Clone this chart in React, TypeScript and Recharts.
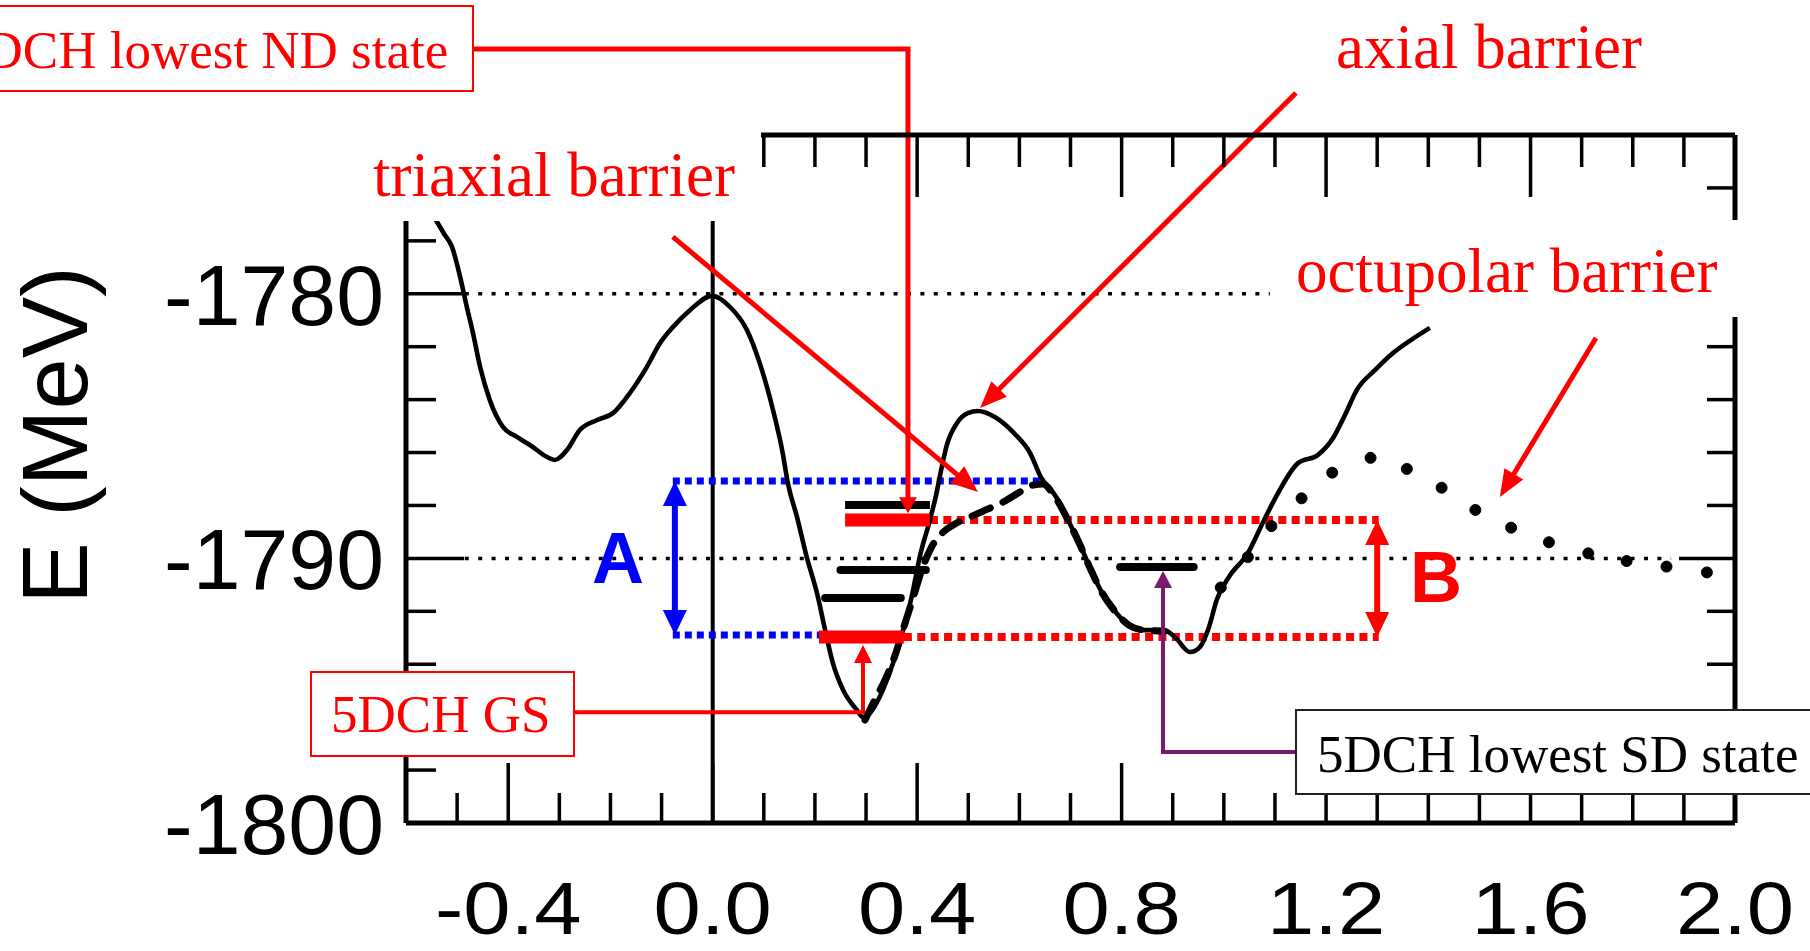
import React from 'react';
import { ComposedChart, Line, XAxis, YAxis, ReferenceLine } from 'recharts';

// potential energy along the fission path, [q, E in MeV]
const fullPath: [number, number][] = [
  [-0.545, -1777.1], [-0.525, -1777.75], [-0.51, -1778.23], [-0.494, -1779.37], [-0.481, -1780.5],
  [-0.469, -1781.48], [-0.455, -1782.77], [-0.436, -1784.02], [-0.41, -1785.04], [-0.383, -1785.41],
  [-0.352, -1785.79], [-0.324, -1786.17], [-0.309, -1786.28], [-0.285, -1785.9], [-0.26, -1785.15],
  [-0.226, -1784.77], [-0.195, -1784.51], [-0.162, -1783.75], [-0.129, -1782.77], [-0.103, -1781.86],
  [-0.078, -1781.26], [-0.044, -1780.61], [-0.001, -1780.08], [0.034, -1780.5], [0.067, -1781.37],
  [0.092, -1782.62], [0.118, -1784.39], [0.137, -1786.02], [0.147, -1787.15], [0.165, -1788.44],
  [0.184, -1789.95], [0.204, -1791.31], [0.22, -1792.71], [0.235, -1793.95], [0.255, -1794.97],
  [0.282, -1795.73], [0.294, -1796.0], [0.308, -1795.84], [0.333, -1794.97], [0.353, -1793.95],
  [0.366, -1793.09], [0.38, -1792.22], [0.392, -1791.2], [0.405, -1789.95], [0.425, -1788.55],
  [0.437, -1787.61], [0.449, -1786.47], [0.458, -1785.72], [0.478, -1784.88], [0.499, -1784.51],
  [0.519, -1784.43], [0.552, -1784.66], [0.589, -1785.26], [0.621, -1786.02], [0.642, -1786.93],
  [0.672, -1787.68], [0.695, -1788.55], [0.717, -1789.42], [0.74, -1790.44], [0.762, -1791.31],
  [0.785, -1791.95], [0.814, -1792.52], [0.844, -1792.71], [0.883, -1792.71], [0.904, -1792.97],
  [0.934, -1793.54], [0.953, -1793.35], [0.971, -1792.59], [0.986, -1791.57], [1.01, -1790.7],
  [1.047, -1789.8], [1.076, -1788.66], [1.106, -1787.53], [1.145, -1786.4], [1.184, -1786.09],
  [1.215, -1785.41], [1.237, -1784.58], [1.26, -1783.64], [1.296, -1782.88], [1.331, -1782.24],
  [1.366, -1781.75], [1.403, -1781.29],
];

// path over the triaxial saddle (dashed)
const triaxialPath: [number, number][] = [
  [0.298, -1796.11], [0.317, -1795.35], [0.337, -1794.6], [0.357, -1793.65], [0.374, -1792.59],
  [0.392, -1791.5], [0.409, -1790.44], [0.427, -1789.61], [0.449, -1789.04], [0.474, -1788.7],
  [0.503, -1788.44], [0.539, -1788.13], [0.572, -1787.83], [0.601, -1787.49], [0.627, -1787.23],
  [0.646, -1787.19], [0.666, -1787.57], [0.695, -1788.55], [0.717, -1789.42], [0.74, -1790.44],
  [0.762, -1791.31], [0.785, -1791.95], [0.814, -1792.52], [0.844, -1792.71], [0.883, -1792.75],
];

// octupolar path (big dots)
const octupolarPath: [number, number][] = [
  [0.994, -1791.1], [1.047, -1789.95], [1.093, -1788.78], [1.152, -1787.73], [1.212, -1786.76],
  [1.287, -1786.2], [1.358, -1786.62], [1.426, -1787.33], [1.492, -1788.17], [1.562, -1788.84],
  [1.636, -1789.39], [1.713, -1789.81], [1.788, -1790.1], [1.866, -1790.31], [1.945, -1790.53],
];

const xTicks = [
  -0.6, -0.5, -0.4, -0.3, -0.2, -0.1, 0, 0.1, 0.2, 0.3, 0.4, 0.5, 0.6, 0.7, 0.8, 0.9,
  1.0, 1.1, 1.2, 1.3, 1.4, 1.5, 1.6, 1.7, 1.8, 1.9, 2.0,
];
const xLabels = [-0.4, 0, 0.4, 0.8, 1.2, 1.6, 2.0];
const yTicks = [-1800, -1798, -1796, -1794, -1792, -1790, -1788, -1786, -1784, -1782, -1780, -1778, -1776];
const yLabels = [-1800, -1790, -1780];

// levels, [qFrom, qTo, E]
const ndLevels = [
  [0.259, 0.425, -1787.98],
  [0.25, 0.417, -1790.44],
  [0.22, 0.368, -1791.5],
];
const ndLowest = [0.259, 0.425, -1788.55];
const groundState = [0.208, 0.374, -1792.97];
const sdLowest = [0.797, 0.941, -1790.33];

// black dotted guides, [qFrom, qTo, E]
const guides = [
  [-0.485, 1.09, -1780],
  [-0.485, 1.875, -1790],
];
// blue A and red B gaps, [q, Etop, Ebottom]
const gapA = [-0.074, -1787.08, -1792.9];
const gapB = [1.3, -1788.55, -1792.97];

// barrier pointers, [qFrom, EFrom, qTo, ETo]
const pointers = [
  [-0.078, -1777.85, 0.519, -1787.49],
  [1.141, -1772.41, 0.523, -1784.32],
  [1.728, -1781.67, 1.54, -1787.68],
];

const RED = '#ff0000';
const BLUE = '#0000ff';
const PURPLE = '#7a1a6e';
const SERIF = "'Liberation Serif', 'Times New Roman', serif";
const SANS = "'Liberation Sans', Arial, sans-serif";

const toPts = (arr: [number, number][]) => arr.map(([q, E]) => ({ q, E }));

function headPoints(xt: number, yt: number, xs: number, ys: number, len: number, half: number) {
  const d = Math.hypot(xt - xs, yt - ys) || 1;
  const ux = (xt - xs) / d;
  const uy = (yt - ys) / d;
  const bx = xt - ux * len;
  const by = yt - uy * len;
  return `${xt},${yt} ${bx - uy * half},${by + ux * half} ${bx + uy * half},${by - ux * half}`;
}

const arrow = (color: string, width: number, len: number, half: number, both = false) => (p: any) => {
  const { x1, y1, x2, y2 } = p;
  const d = Math.hypot(x2 - x1, y2 - y1) || 1;
  const ux = (x2 - x1) / d;
  const uy = (y2 - y1) / d;
  const k = len * 0.7;
  return (
    <g>
      <line
        x1={both ? x1 + ux * k : x1}
        y1={both ? y1 + uy * k : y1}
        x2={x2 - ux * k}
        y2={y2 - uy * k}
        stroke={color}
        strokeWidth={width}
      />
      <polygon points={headPoints(x2, y2, x1, y1, len, half)} fill={color} />
      {both && <polygon points={headPoints(x1, y1, x2, y2, len, half)} fill={color} />}
    </g>
  );
};

const stroke = (color: string, width: number, dash?: string, cap: 'butt' | 'round' | 'square' = 'butt') => (p: any) => (
  <line
    x1={p.x1}
    y1={p.y1}
    x2={p.x2}
    y2={p.y2}
    stroke={color}
    strokeWidth={width}
    strokeDasharray={dash}
    strokeLinecap={cap}
  />
);

const seg = (q1: number, e1: number, q2: number, e2: number) => [
  { x: q1, y: e1 },
  { x: q2, y: e2 },
];

function BottomTick(p: any) {
  const v = p.payload.value;
  const major = xLabels.includes(v);
  return (
    <g>
      <line x1={p.x} x2={p.x} y1={p.y} y2={p.y - (major ? 60 : 30)} stroke="#000" strokeWidth={3.5} />
      {major && (
        <text
          transform={`translate(${p.x},${p.y + 111}) scale(1,0.88)`}
          textAnchor="middle"
          fontFamily={SANS}
          fontSize={85}
          fill="#000"
        >
          {v.toFixed(1)}
        </text>
      )}
    </g>
  );
}

function TopTick(p: any) {
  const major = xLabels.includes(p.payload.value);
  return <line x1={p.x} x2={p.x} y1={p.y} y2={p.y + (major ? 62 : 32)} stroke="#000" strokeWidth={3.5} />;
}

function LeftTick(p: any) {
  const v = p.payload.value;
  const major = yLabels.includes(v);
  return (
    <g>
      <line x1={p.x} x2={p.x + (major ? 58 : 30)} y1={p.y} y2={p.y} stroke="#000" strokeWidth={3.5} />
      {major && (
        <text x={p.x - 22} y={p.y} dy="0.36em" textAnchor="end" fontFamily={SANS} fontSize={86} fill="#000">
          {String(v)}
        </text>
      )}
    </g>
  );
}

function RightTick(p: any) {
  const major = yLabels.includes(p.payload.value);
  return <line x1={p.x} x2={p.x - (major ? 56 : 28)} y1={p.y} y2={p.y} stroke="#000" strokeWidth={3.5} />;
}

export default function App() {
  const axisLine = { stroke: '#000', strokeWidth: 5 };
  const xCommon = {
    type: 'number' as const,
    dataKey: 'q',
    domain: [-0.6, 2.0],
    ticks: xTicks,
    interval: 0,
    height: 1,
    tickSize: 0,
    tickMargin: 0,
    tickLine: false,
    axisLine,
    allowDataOverflow: true,
  };
  const yCommon = {
    type: 'number' as const,
    domain: [-1800, -1774],
    ticks: yTicks,
    interval: 0,
    width: 1,
    tickSize: 0,
    tickMargin: 0,
    tickLine: false,
    axisLine,
    allowDataOverflow: true,
  };

  return (
    <div style={{ position: 'absolute', left: 0, top: 0, width: 1810, height: 951, overflow: 'hidden', background: '#fff' }}>
      <ComposedChart width={1810} height={951} margin={{ top: 134, right: 74, bottom: 127, left: 405 }}>
        <XAxis {...xCommon} tick={(p: any) => <BottomTick {...p} />} />
        <XAxis {...xCommon} xAxisId="top" orientation="top" tick={(p: any) => <TopTick {...p} />} />
        <YAxis {...yCommon} tick={(p: any) => <LeftTick {...p} />} />
        <YAxis {...yCommon} yAxisId="right" orientation="right" tick={(p: any) => <RightTick {...p} />} />

        {/* q = 0 marker */}
        <ReferenceLine segment={seg(0, -1774, 0, -1800)} shape={stroke('#000', 4)} ifOverflow="visible" />

        {guides.map(([a, b, e], i) => (
          <ReferenceLine key={`g${i}`} segment={seg(a, e, b, e)} shape={stroke('#000', 3.5, '4 9.4')} ifOverflow="visible" />
        ))}

        {/* A: blue dotted bounds and double arrow */}
        <ReferenceLine segment={seg(gapA[0] - 0.004, gapA[1], 0.65, gapA[1])} shape={stroke(BLUE, 7, '7 5')} />
        <ReferenceLine segment={seg(gapA[0] - 0.004, gapA[2], groundState[0], gapA[2])} shape={stroke(BLUE, 7, '7 5')} />
        <ReferenceLine segment={seg(gapA[0], gapA[1], gapA[0], gapA[2])} shape={arrow(BLUE, 6, 25, 12, true)} />

        {/* B: red dotted bounds and double arrow */}
        <ReferenceLine segment={seg(ndLowest[1], ndLowest[2], gapB[0] + 0.003, ndLowest[2])} shape={stroke(RED, 8, '8 5.4')} />
        <ReferenceLine segment={seg(groundState[1], groundState[2], gapB[0] + 0.003, groundState[2])} shape={stroke(RED, 8, '8 5.4')} />
        <ReferenceLine segment={seg(gapB[0], gapB[1], gapB[0], gapB[2])} shape={arrow(RED, 6, 25, 12, true)} />

        <Line data={toPts(fullPath)} dataKey="E" type="monotone" stroke="#000" strokeWidth={4.6} dot={false} isAnimationActive={false} />
        <Line
          data={toPts(triaxialPath)}
          dataKey="E"
          type="monotone"
          stroke="#000"
          strokeWidth={7}
          strokeDasharray="20 14"
          strokeLinecap="round"
          dot={false}
          isAnimationActive={false}
        />
        <Line
          data={toPts(octupolarPath)}
          dataKey="E"
          stroke="none"
          strokeWidth={0}
          dot={{ r: 5.5, fill: '#000', stroke: '#000', strokeWidth: 1 }}
          isAnimationActive={false}
        />

        {/* levels */}
        {ndLevels.map(([a, b, e], i) => (
          <ReferenceLine key={`l${i}`} segment={seg(a, e, b, e)} shape={stroke('#000', 8, undefined, i === 0 ? 'butt' : 'round')} />
        ))}
        <ReferenceLine segment={seg(ndLowest[0], ndLowest[2], ndLowest[1], ndLowest[2])} shape={stroke(RED, 13)} />
        <ReferenceLine segment={seg(groundState[0], groundState[2], groundState[1], groundState[2])} shape={stroke(RED, 13)} />
        <ReferenceLine segment={seg(sdLowest[0], sdLowest[2], sdLowest[1], sdLowest[2])} shape={stroke('#000', 8, undefined, 'round')} />

        {/* connectors from the boxed labels */}
        <ReferenceLine segment={seg(-0.469, -1770.75, 0.382, -1770.75)} shape={stroke(RED, 5, undefined, 'square')} ifOverflow="visible" />
        <ReferenceLine segment={seg(0.382, -1770.75, 0.382, -1788.29)} shape={arrow(RED, 5, 16, 9)} ifOverflow="visible" />
        <ReferenceLine segment={seg(-0.271, -1795.81, 0.294, -1795.81)} shape={stroke(RED, 4, undefined, 'square')} />
        <ReferenceLine segment={seg(0.294, -1795.81, 0.294, -1793.27)} shape={arrow(RED, 4, 18, 9)} />
        <ReferenceLine segment={seg(1.141, -1797.32, 0.881, -1797.32)} shape={stroke(PURPLE, 4, undefined, 'square')} />
        <ReferenceLine segment={seg(0.881, -1797.32, 0.881, -1790.48)} shape={arrow(PURPLE, 4, 17, 9)} />

        {pointers.map(([q1, e1, q2, e2], i) => (
          <ReferenceLine key={`p${i}`} segment={seg(q1, e1, q2, e2)} shape={arrow(RED, 5, 27, 11)} ifOverflow="visible" />
        ))}
      </ComposedChart>

      <svg width={1810} height={951} style={{ position: 'absolute', left: 0, top: 0, pointerEvents: 'none' }}>
        <text transform="translate(87,435) rotate(-90)" textAnchor="middle" fontFamily={SANS} fontSize={92} fill="#000">
          E (MeV)
        </text>

        <rect x={330} y={108} width={431} height={113} fill="#fff" />
        <text x={373} y={196} fontFamily={SERIF} fontSize={63} fill={RED}>triaxial barrier</text>

        <rect x={1284} y={220} width={470} height={97} fill="#fff" />
        <text x={1296} y={292} fontFamily={SERIF} fontSize={63} fill={RED}>octupolar barrier</text>

        <text x={1336} y={68} fontFamily={SERIF} fontSize={63} fill={RED}>axial barrier</text>

        <rect x={-10} y={6} width={483} height={85} fill="#fff" stroke={RED} strokeWidth={2} />
        <text x={-42} y={68} fontFamily={SERIF} fontSize={53} fill={RED}>5DCH lowest ND state</text>

        <rect x={311} y={672} width={263} height={84} fill="#fff" stroke={RED} strokeWidth={2} />
        <text x={331} y={732} fontFamily={SERIF} fontSize={53} fill={RED}>5DCH GS</text>

        <rect x={1296} y={710} width={530} height={84} fill="#fff" stroke="#222" strokeWidth={2} />
        <text x={1317} y={772} fontFamily={SERIF} fontSize={53} fill="#000">5DCH lowest SD state</text>

        <text x={592} y={583} fontFamily={SANS} fontWeight="bold" fontSize={72} fill={BLUE}>A</text>
        <text x={1410} y={602} fontFamily={SANS} fontWeight="bold" fontSize={72} fill={RED}>B</text>
      </svg>
    </div>
  );
}
